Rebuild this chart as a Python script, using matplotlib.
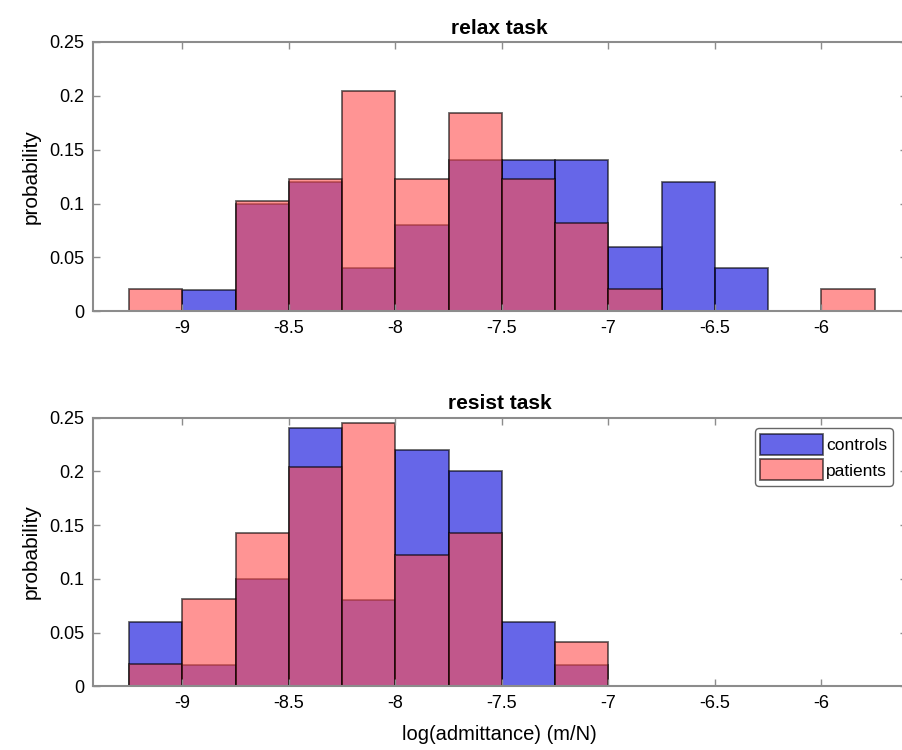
import numpy as np
import matplotlib.pyplot as plt

# bin edges (width 0.25)
edges = np.arange(-9.25, -5.75 + 0.001, 0.25)

relax_controls = [0, 0.02, 0.10, 0.12, 0.04, 0.08, 0.14, 0.14, 0.14, 0.06, 0.12, 0.04, 0, 0]
relax_patients = [0.0204, 0, 0.102, 0.1224, 0.2041, 0.1224, 0.1837, 0.1224, 0.0816, 0.0204, 0, 0, 0, 0.0204]

resist_controls = [0.06, 0.02, 0.10, 0.24, 0.08, 0.22, 0.20, 0.06, 0.02, 0, 0, 0, 0, 0]
resist_patients = [0.0204, 0.0816, 0.1429, 0.2041, 0.2449, 0.1224, 0.1429, 0, 0.0408, 0, 0, 0, 0, 0]

xticks = [-9, -8.5, -8, -7.5, -7, -6.5, -6]
xticklabels = ['-9', '-8.5', '-8', '-7.5', '-7', '-6.5', '-6']
yticks = [0, 0.05, 0.1, 0.15, 0.2, 0.25]
yticklabels = ['0', '0.05', '0.1', '0.15', '0.2', '0.25']

plt.rcParams['font.family'] = ['Liberation Sans', 'DejaVu Sans']

blue = (0.0, 0.0, 0.85)
pink = (1.0, 0.3, 0.3)
spine_col = '#8c8c8c'

fig = plt.figure(figsize=(9.02, 7.5), dpi=100)
ax1 = fig.add_axes([0.103, 0.585, 0.902, 0.359])
ax2 = fig.add_axes([0.103, 0.085, 0.902, 0.358])

panels = [(ax1, relax_controls, relax_patients, 'relax task'),
          (ax2, resist_controls, resist_patients, 'resist task')]

for ax, ctl, pat, title in panels:
    ax.bar(edges[:-1], ctl, width=0.25, align='edge', color=blue, alpha=0.6,
           edgecolor='black', linewidth=1.3, label='controls')
    ax.bar(edges[:-1], pat, width=0.25, align='edge', color=pink, alpha=0.6,
           edgecolor='black', linewidth=1.3, label='patients')
    ax.set_xlim(-9.42, -5.6)
    ax.set_ylim(0, 0.25)
    ax.set_xticks(xticks)
    ax.set_xticklabels(xticklabels)
    ax.set_yticks(yticks)
    ax.set_yticklabels(yticklabels)
    ax.tick_params(direction='in', top=True, right=True, length=5, width=1,
                   color=spine_col, labelsize=13, pad=6)
    for s in ax.spines.values():
        s.set_color(spine_col)
        s.set_linewidth(1.5)
    ax.set_ylabel('probability', fontsize=15, labelpad=6)
    ax.set_title(title, fontsize=15, fontweight='bold', pad=6)

ax2.set_xlabel('log(admittance) (m/N)', fontsize=14.5, labelpad=10)
leg = ax2.legend(loc='upper right', bbox_to_anchor=(0.983, 0.96), fontsize=12.5,
                 fancybox=True, framealpha=1, edgecolor='#666666',
                 handlelength=3.6, handleheight=1.5, handletextpad=0.2,
                 borderpad=0.3, labelspacing=0.25, borderaxespad=0)

fig.savefig('out.png', dpi=100)
